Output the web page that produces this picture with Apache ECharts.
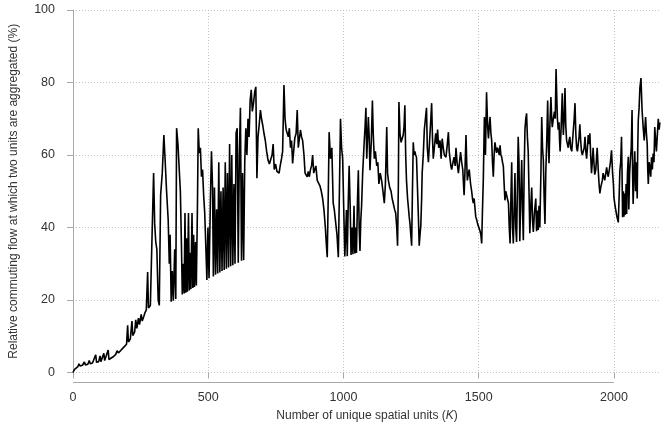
<!DOCTYPE html>
<html><head><meta charset="utf-8">
<script src="https://cdn.jsdelivr.net/npm/echarts@6/dist/echarts.min.js"></script>
<style>html,body{margin:0;padding:0;background:#fff}#chart{width:661px;height:431px}</style>
</head><body><div id="chart"></div>
<script>
const unitCounts = [
0,5,12,18,22,26,35,42,46,55,
60,64,72,78,84,87,95,100,103,110,
114,117,124,130,133,140,150,158,163,168,
178,188,198,202,205,212,218,221,228,232,
236,242,246,252,256,262,266,271,276,279,
286,292,298,302,306,310,315,319,324,330,
336,341,346,352,356,359,363,367,371,376,
380,383,388,393,397,401,404,408,411,414,
417,420,423,427,430,433,436,440,443,446,
449,453,456,460,463,467,471,475,479,483,
487,491,495,499,503,508,512,516,519,523,
527,531,535,539,543,547,551,555,559,563,
567,571,575,579,583,587,591,595,599,603,
607,611,615,619,623,627,631,635,639,643,
647,651,655,659,663,667,672,676,680,684,
688,693,697,702,706,711,716,721,726,731,
736,740,744,749,754,758,762,766,771,775,
780,784,788,792,796,800,804,808,812,816,
820,825,829,833,837,841,845,849,854,858,
862,866,870,874,878,882,886,890,894,898,
903,908,913,918,923,928,933,937,940,944,
947,952,957,962,966,971,976,981,985,989,
993,997,1001,1005,1008,1011,1014,1018,1021,1025,
1028,1032,1035,1039,1042,1045,1048,1052,1055,1058,
1061,1064,1067,1071,1076,1080,1083,1086,1092,1095,
1098,1103,1107,1110,1114,1118,1123,1127,1131,1136,
1141,1146,1151,1155,1160,1163,1166,1171,1176,1180,
1184,1189,1193,1197,1200,1203,1205,1209,1213,1217,
1221,1224,1227,1230,1233,1237,1240,1243,1246,1249,
1252,1255,1258,1261,1264,1267,1270,1274,1277,1280,
1283,1286,1289,1291,1295,1299,1303,1307,1310,1314,
1317,1320,1323,1326,1329,1332,1336,1341,1345,1348,
1352,1357,1361,1365,1369,1373,1379,1384,1388,1391,
1394,1397,1400,1405,1409,1413,1416,1420,1425,1429,
1433,1437,1441,1446,1449,1453,1456,1458,1462,1465,
1470,1474,1477,1480,1483,1486,1489,1493,1496,1499,
1502,1505,1508,1511,1514,1517,1521,1525,1529,1533,
1536,1539,1542,1545,1548,1551,1554,1557,1560,1563,
1566,1570,1573,1576,1579,1582,1585,1588,1591,1594,
1597,1600,1603,1606,1610,1613,1616,1619,1622,1625,
1628,1631,1634,1637,1640,1643,1646,1649,1652,1656,
1659,1662,1665,1668,1671,1674,1677,1680,1683,1686,
1689,1692,1696,1699,1702,1706,1711,1714,1718,1720,
1723,1726,1730,1733,1736,1739,1742,1745,1748,1752,
1755,1758,1760,1763,1767,1770,1772,1776,1780,1783,
1786,1789,1791,1794,1797,1799,1801,1805,1809,1811,
1813,1816,1819,1822,1825,1828,1831,1834,1837,1840,
1844,1847,1850,1853,1856,1859,1862,1865,1868,1871,
1874,1877,1880,1883,1887,1890,1893,1896,1899,1902,
1905,1908,1911,1914,1917,1920,1923,1926,1929,1933,
1938,1942,1945,1948,1951,1954,1957,1960,1963,1966,
1970,1973,1976,1979,1983,1987,1991,1995,1998,2000,
2004,2007,2011,2016,2019,2022,2025,2028,2030,2032,
2035,2037,2040,2042,2045,2047,2050,2053,2055,2058,
2061,2064,2067,2069,2071,2074,2077,2080,2083,2086,
2088,2090,2093,2096,2100,2104,2108,2112,2115,2117,
2120,2123,2125,2127,2130,2133,2136,2139,2142,2145,
2148,2151,2154,2157,2160,2164,2167,2170
];
const flowPercent = [
0,0.8,1.3,1.6,2.4,1.8,2.0,2.9,2.1,2.3,
3.3,2.4,2.6,3.0,4.9,2.8,3.0,4.6,3.0,3.2,
5.3,3.3,3.5,6.2,3.6,3.9,4.4,5.0,6.0,5.4,
6.2,7.0,7.8,13.0,8.4,9.3,14.2,10.2,11.2,14.5,
12.2,15.0,13.2,16.0,14.2,15.5,16.5,17.2,27.7,17.8,
18.5,19.0,55,41,36,34,20,18.5,49,55,
65.5,58,50,42,30,38,19.5,28,19.8,34,
20.3,67.4,63,63.5,50,35,21.5,30,21.8,44,
22,37,22.3,44,22.6,33,23,44,23.3,38,
23.6,36,24,45,67.4,60.5,62,54,56,49,
44,35,25.5,40,26,47.5,61,51,26.5,51,
27,45,27.3,58,27.6,50,28,51,28.3,58,
28.6,55,29,63,29.3,60,29.6,52,30,66,
67.4,30.3,60,73,30.8,55,31,58,67.4,60,
70,65,75,78,72,74,77.5,78.8,53.6,65,
68,72.4,70,68,66,64,61,58.6,57.5,58,
60,63,56,57.5,55.5,56,55,57,59,61,
79.3,70,67,66,65,67.4,62,64,57.7,58,
64.6,66,72.4,62,62,66.9,65,64,60,55,
55.5,54,55.5,54,56,57,60,55,55,57,
53,52.5,51.5,50,48,44.8,40,35,31.8,50,
66.3,59,62,46.7,45,45,38,31.8,50,70,
62,59,45,32,38,44.8,32.1,48,57,45,
32.4,40,32.6,46,32.8,40,33,48,55.8,40,
33.5,42,46,55,62.7,68,73,59,70.5,65,
55.8,64,75,66,59,61,57,58,52,55,
53,50,46.7,52,67.7,55,53,51,50,48,
46.7,45,44,40,35,52,74.6,66,63.5,64,
65.5,68,73.7,60,53,48,45.6,43,41,38,
35,50,63.5,60,61,60,59.4,50,43,35,
38,40.6,48,55,60,67,70,73,62,58,
62,66,70,74.3,65,59,62,66,63,67,
62,64,59,64.5,62,60,59.4,63,66.3,61,
59,57,56,58,59.4,57,62,58,55,58,
60.8,58,56,48.9,55,65.5,57,53,55,56,
52,50,48,46.7,48,45.6,43,42,41,40.6,
41,39,38,35.6,45,53,70.5,60,77.3,68,
64.6,68,70.5,66,64,58,54,60,63.5,62,
60.6,62,61,60,62.7,60,59.4,58,57,52,
47.5,50,49.7,48,46.7,40,35.6,48,58,40,
35.6,45,55,40,36,50,65,58,36.2,50,
58.6,45,36.5,55,67,70,71.5,65,61,50,
38.4,45,51,42,38.8,44,48,39,44.7,39.3,
46,40,55,70.5,62,58.6,48,41,55,65,
75,62,57.7,68,76,70,67.7,70,72,70,
83.7,75,70,67,69,64,61,68,77,70,
65.5,70,78.5,68,64,63,62,64,65,62,
61,64,67,70,74.3,66,62,61,63,65,
68.5,64,61,60,60,62,65,61,59,62,
65.5,63,66,60,55,58,62,58,54.6,56,
62,55.8,52,49.4,51,50.7,53,55,54,53,
55,56.6,55,54,56,58,61.3,55,52,48.3,
46,44.7,43,41.4,48,55.8,58,65,55,42.8,
50,43,49.4,43.5,52,43.7,55,59.5,45,55,
59,62,72.4,55,46.5,55,61,50,58,48,
62,69.6,73,78.5,81.2,72.4,67.7,64,68,70.5,
66,63,56,52,58,56.6,54,59.4,56,60.4,
58,67.7,64,61,65,70,67,69
];
const xTickValues = [0, 500, 1000, 1500, 2000];
const xLabel = 'Number of unique spatial units ({k|K})';
const yLabel = 'Relative commuting flow at which two units are aggregated (%)';

const seriesData = unitCounts.map((k, i) => [k, flowPercent[i]]);
const font = '"Liberation Sans", Arial, sans-serif';
const textColor = '#333';
const axisColor = '#a8a8a8';
const gridLine = { show: true, lineStyle: { color: '#c4c4c4', type: [1, 2], width: 1 } };

const chart = echarts.init(document.getElementById('chart'), null, { renderer: 'canvas' });
chart.setOption({
  animation: false,
  backgroundColor: '#fff',
  grid: { left: 73, right: 0, top: 10, bottom: 58.5, containLabel: false },
  xAxis: {
    type: 'value', min: 0, max: 2174, offset: 10,
    name: xLabel, nameLocation: 'middle', nameGap: 27,
    nameTextStyle: { fontFamily: font, fontSize: 12, color: textColor, rich: { k: { fontFamily: font, fontSize: 12, color: textColor, fontStyle: 'italic' } } },
    axisLine: { show: false },
    axisTick: { show: true, length: 6, customValues: xTickValues, lineStyle: { color: axisColor } },
    axisLabel: { customValues: xTickValues, margin: 9, fontFamily: font, fontSize: 12.5, color: textColor, formatter: v => String(v) },
    splitLine: gridLine
  },
  yAxis: {
    type: 'value', min: 0, max: 100, interval: 20, offset: 10,
    name: yLabel, nameLocation: 'middle', nameGap: 43, nameRotate: 90,
    nameTextStyle: { fontFamily: font, fontSize: 12, color: textColor },
    axisLine: { show: true, lineStyle: { color: axisColor } },
    axisTick: { show: true, length: 6, lineStyle: { color: axisColor } },
    axisLabel: { margin: 8, fontFamily: font, fontSize: 12.5, color: textColor, formatter: v => String(v) },
    splitLine: gridLine
  },
  series: [{
    type: 'line', data: seriesData, showSymbol: false, symbol: 'none',
    lineStyle: { color: '#000', width: 1.6 }, clip: false
  }]
});
const xStart = chart.convertToPixel({ xAxisIndex: 0 }, xTickValues[0]);
const xEnd = chart.convertToPixel({ xAxisIndex: 0 }, xTickValues[xTickValues.length - 1]);
const yBase = chart.convertToPixel({ yAxisIndex: 0 }, 0) + 10;
chart.setOption({
  graphic: [{ type: 'line', silent: true,
    shape: { x1: xStart, y1: yBase, x2: xEnd, y2: yBase },
    style: { stroke: axisColor, lineWidth: 1 } }]
});
</script></body></html>
